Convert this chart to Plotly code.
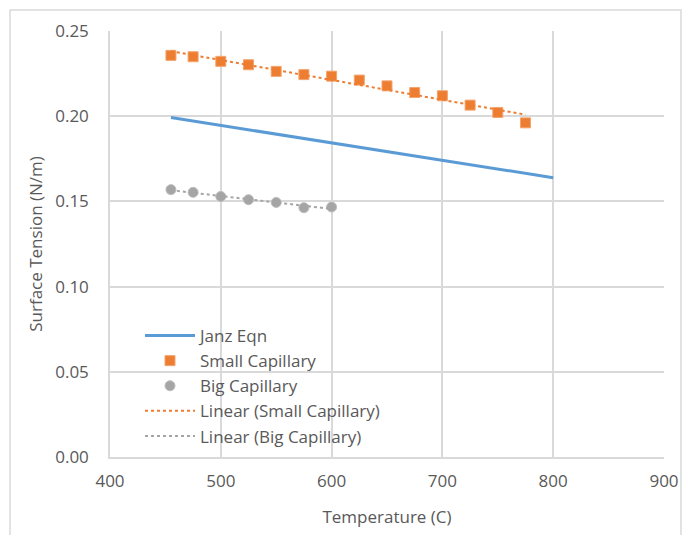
import numpy as np
import plotly.graph_objects as go

# Data
small_T = [455, 475, 500, 525, 550, 575, 600, 625, 650, 675, 700, 725, 750, 775]
small_st = [0.2357, 0.2349, 0.2322, 0.2302, 0.2263, 0.2244, 0.2235, 0.2212,
            0.2178, 0.2139, 0.2120, 0.2065, 0.2022, 0.1961]
big_T = [455, 475, 500, 525, 550, 575, 600]
big_st = [0.1569, 0.1553, 0.1529, 0.1510, 0.1494, 0.1463, 0.1467]
janz_T = [455, 800]
janz_st = [0.1992, 0.1639]

x_ticks = [400, 500, 600, 700, 800, 900]
y_ticks = [0.00, 0.05, 0.10, 0.15, 0.20, 0.25]

BLUE = "#5B9BD5"
ORANGE = "#ED7D31"
GRAY = "#A5A5A5"
TXT = "#595959"
GRID = "#D9D9D9"
FONT = "Open Sans"
FS = 17

# Linear trendlines (least squares fit, like Excel's "Linear" trendline)
ps = np.polyfit(small_T, small_st, 1)
pb = np.polyfit(big_T, big_st, 1)
st_x = [min(small_T), max(small_T)]
bt_x = [min(big_T), max(big_T)]

fig = go.Figure()
fig.add_trace(go.Scatter(x=janz_T, y=janz_st, mode="lines", name="Janz Eqn",
                         line=dict(color=BLUE, width=3)))
fig.add_trace(go.Scatter(x=small_T, y=small_st, mode="markers", name="Small Capillary",
                         marker=dict(symbol="square", size=10, color=ORANGE,
                                     line=dict(color="#F4A46E", width=1))))
fig.add_trace(go.Scatter(x=big_T, y=big_st, mode="markers", name="Big Capillary",
                         marker=dict(symbol="circle", size=10, color=GRAY,
                                     line=dict(color="#BDBDBD", width=1))))
fig.add_trace(go.Scatter(x=st_x, y=list(np.polyval(ps, st_x)), mode="lines",
                         name="Linear (Small Capillary)",
                         line=dict(color=ORANGE, width=2, dash="dot")))
fig.add_trace(go.Scatter(x=bt_x, y=list(np.polyval(pb, bt_x)), mode="lines",
                         name="Linear (Big Capillary)",
                         line=dict(color=GRAY, width=2, dash="dot")))

L, R, T, B = 110, 20, 31, 78
W, H = 684, 535
pw, ph = W - L - R, H - T - B

def px(xp):
    return (xp - L) / pw

def py(yp):
    return (H - B - yp) / ph

fig.update_layout(
    width=W, height=H,
    margin=dict(l=L, r=R, t=T, b=B, autoexpand=False),
    paper_bgcolor="white", plot_bgcolor="white",
    font=dict(family=FONT, color=TXT, size=FS),
    showlegend=True,
    legend=dict(x=px(140), y=py(318), xanchor="left", yanchor="top",
                bgcolor="rgba(0,0,0,0)", font=dict(size=FS, color=TXT),
                itemwidth=50, tracegroupgap=0),
    xaxis=dict(range=[400, 900], tickvals=x_ticks, ticktext=[str(v) for v in x_ticks],
               showgrid=True, gridcolor=GRID, gridwidth=1.5,
               showline=True, linecolor=GRID, linewidth=1.5, mirror=False,
               zeroline=False, ticks="outside", ticklen=8, tickcolor="rgba(0,0,0,0)",
               automargin=False,
               title=dict(text="Temperature (C)", font=dict(size=FS, color=TXT), standoff=20),
               tickfont=dict(size=FS, color=TXT)),
    yaxis=dict(range=[0, 0.25], tickvals=y_ticks, ticktext=[f"{v:.2f}" for v in y_ticks],
               showgrid=True, gridcolor=GRID, gridwidth=1.5,
               showline=True, linecolor=GRID, linewidth=1.5,
               zeroline=False, ticks="outside", ticklen=16, tickcolor="rgba(0,0,0,0)",
               automargin=False,
               title=dict(text="Surface Tension (N/m)", font=dict(size=FS, color=TXT), standoff=8),
               tickfont=dict(size=FS, color=TXT)),
    shapes=[dict(type="rect", xref="paper", yref="paper",
                 x0=px(10), x1=px(681), y0=py(545), y1=py(10),
                 line=dict(color=GRID, width=1.5), fillcolor="rgba(0,0,0,0)", layer="below")],
)

fig.write_html("out.html")
